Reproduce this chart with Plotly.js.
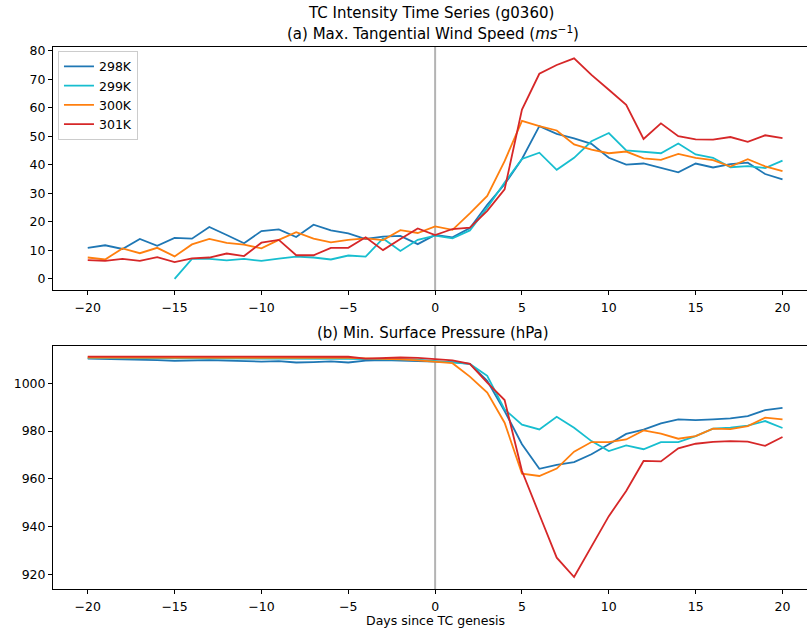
<!DOCTYPE html>
<html>
<head>
<meta charset="utf-8">
<script src="https://cdn.plot.ly/plotly-3.0.1.min.js"></script>
<style>html,body{margin:0;padding:0;background:#fff;}#chart{width:807px;height:632px;}</style>
</head>
<body>
<div id="chart"></div>
<script>
const days = [-20,-19,-18,-17,-16,-15,-14,-13,-12,-11,-10,-9,-8,-7,-6,-5,-4,-3,-2,-1,0,1,2,3,4,5,6,7,8,9,10,11,12,13,14,15,16,17,18,19,20];
const seriesNames = ['298K','299K','300K','301K'];
const seriesColors = ['#1f77b4','#17becf','#ff7f0e','#d62728'];

// (a) Max tangential wind speed (m/s)
const wind298 = [10.9,11.8,10.5,14.0,11.6,14.4,14.1,18.2,15.4,12.5,16.8,17.4,14.7,19.0,17.0,16.0,14.0,14.8,15.1,12.2,15.4,14.6,17.8,26.0,33.2,42.1,53.6,50.9,49.3,47.4,42.5,40.1,40.5,39.0,37.4,40.5,39.1,40.3,40.8,36.8,34.9];
const wind299 = [null,null,null,null,null,0.0,7.0,7.0,6.5,7.0,6.3,7.1,7.8,7.5,6.8,8.2,7.8,14.2,9.8,13.7,15.2,14.2,17.0,25.0,33.8,42.1,44.3,38.3,42.5,48.3,51.2,45.1,44.6,44.1,47.5,43.7,42.5,39.2,39.6,38.9,41.5];
const wind300 = [7.5,6.8,10.7,9.0,10.9,7.9,12.1,14.0,12.6,12.0,10.7,13.7,16.4,14.1,12.8,13.7,14.2,13.6,17.1,16.1,18.4,17.2,23.0,29.1,41.3,55.5,53.6,52.1,47.2,45.4,44.1,44.7,42.3,41.8,43.9,42.5,41.7,39.4,42.0,39.5,37.8];
const wind301 = [6.6,6.3,7.0,6.3,7.6,5.9,7.2,7.5,8.9,8.0,12.7,13.7,8.3,8.3,10.9,10.9,14.6,10.1,14.0,17.7,15.4,17.5,18.0,23.9,31.4,59.4,72.0,75.1,77.4,71.6,66.4,61.1,49.1,54.6,50.1,49.0,48.9,49.8,48.1,50.4,49.4];

// (b) Min surface pressure (hPa)
const pres298 = [1010.3,1010.2,1010.0,1009.9,1009.7,1009.4,1009.6,1009.7,1009.5,1009.3,1009.1,1009.3,1008.7,1008.9,1009.2,1008.7,1009.5,1009.7,1009.5,1009.6,1009.3,1008.9,1008.1,1001.0,988.4,974.5,964.2,965.9,967.0,970.3,974.5,978.8,980.6,983.2,984.9,984.6,984.9,985.3,986.3,988.8,989.7];
const pres299 = [1010.5,1010.5,1010.4,1010.4,1010.4,1010.3,1010.4,1010.4,1010.3,1010.3,1010.2,1010.3,1010.2,1010.3,1010.3,1010.2,1010.1,1010.2,1010.0,1009.9,1009.3,1008.9,1008.1,1003.1,989.1,982.7,980.7,986.0,981.4,975.8,971.6,974.0,972.4,975.4,975.4,977.9,981.0,981.4,982.3,984.2,981.3];
const pres300 = [1010.8,1010.8,1010.8,1010.7,1010.7,1010.7,1010.7,1010.7,1010.6,1010.7,1010.6,1010.6,1010.6,1010.7,1010.6,1010.6,1010.4,1010.3,1010.0,1009.6,1008.9,1008.4,1002.8,996.1,983.5,962.2,961.2,964.3,971.4,975.4,975.4,976.5,980.3,978.9,976.8,977.9,981.0,980.8,982.1,985.6,984.9];
const pres301 = [1011.2,1011.2,1011.2,1011.2,1011.2,1011.1,1011.1,1011.1,1011.2,1011.1,1011.1,1011.0,1011.1,1011.1,1011.1,1011.1,1010.3,1010.5,1010.8,1010.6,1010.1,1009.6,1008.1,1000.3,993.0,963.3,945.1,927.0,918.9,931.9,944.4,954.9,967.5,967.3,972.8,974.7,975.5,975.8,975.6,973.8,977.5];

const windSeries = [wind298, wind299, wind300, wind301];
const presSeries = [pres298, pres299, pres300, pres301];

const FONT = 'DejaVu Sans, sans-serif';
const traces = [];
windSeries.forEach((s, i) => {
  traces.push({x: days, y: s, type: 'scatter', mode: 'lines', name: seriesNames[i],
    line: {color: seriesColors[i], width: 1.8}, xaxis: 'x', yaxis: 'y', showlegend: true, connectgaps: false});
});
presSeries.forEach((s, i) => {
  traces.push({x: days, y: s, type: 'scatter', mode: 'lines', name: seriesNames[i],
    line: {color: seriesColors[i], width: 1.8}, xaxis: 'x2', yaxis: 'y2', showlegend: false});
});

const axisCommon = {
  showgrid: false, zeroline: false, showline: true, linecolor: '#000', linewidth: 1,
  ticks: 'outside', ticklen: 4, tickwidth: 1, tickcolor: '#000',
  tickfont: {family: FONT, size: 12.5, color: '#000'}
};
const xTicks = [-20,-15,-10,-5,0,5,10,15,20];
const layout = {
  width: 807, height: 632,
  margin: {l: 53, r: 0, t: 47, b: 43},
  paper_bgcolor: '#fff', plot_bgcolor: '#fff',
  font: {family: FONT, color: '#000'},
  showlegend: true,
  legend: {x: 0.0066, y: 0.993, xanchor: 'left', yanchor: 'top',
    bgcolor: 'rgba(255,255,255,0.8)', bordercolor: '#cccccc', borderwidth: 1,
    font: {family: FONT, size: 12.5, color: '#000'}, itemwidth: 30, tracegroupgap: 0},
  xaxis: Object.assign({}, axisCommon, {range: [-22, 21.41], domain: [0, 1], anchor: 'y', mirror: true, tickvals: xTicks, ticklabelstandoff: 2}),
  yaxis: Object.assign({}, axisCommon, {range: [-3.9, 81.4], domain: [0.5517, 1], anchor: 'x', mirror: false, tickvals: [0,10,20,30,40,50,60,70,80]}),
  xaxis2: Object.assign({}, axisCommon, {range: [-22, 21.41], domain: [0, 1], anchor: 'y2', mirror: true, tickvals: xTicks, ticklabelstandoff: 2}),
  yaxis2: Object.assign({}, axisCommon, {range: [913.9, 1015.6], domain: [0, 0.4483], anchor: 'x2', mirror: false, tickvals: [920,940,960,980,1000]}),
  shapes: [
    {type: 'line', xref: 'x', yref: 'y domain', x0: 0, x1: 0, y0: 0, y1: 1, layer: 'below', line: {color: '#b3b3b3', width: 2}},
    {type: 'line', xref: 'x2', yref: 'y2 domain', x0: 0, x1: 0, y0: 0, y1: 1, layer: 'below', line: {color: '#b3b3b3', width: 2}}
  ],
  annotations: [
    {text: 'TC Intensity Time Series (g0360)', xref: 'x', yref: 'paper', x: -0.25, y: 1.0627, yanchor: 'middle', showarrow: false, font: {family: FONT, size: 15, color: '#000'}},
    {text: '(a) Max. Tangential Wind Speed (<i>ms</i><sup>−1</sup>)', xref: 'x', yref: 'paper', x: -0.1, y: 1.0258, yanchor: 'middle', showarrow: false, font: {family: FONT, size: 15, color: '#000'}},
    {text: '(b) Min. Surface Pressure (hPa)', xref: 'x2', yref: 'paper', x: -0.1, y: 0.4723, yanchor: 'middle', showarrow: false, font: {family: FONT, size: 15, color: '#000'}},
    {text: 'Days since TC genesis', xref: 'x2', yref: 'paper', x: 0, y: -0.059, yanchor: 'middle', showarrow: false, font: {family: FONT, size: 12.5, color: '#000'}}
  ]
};
Plotly.newPlot('chart', traces, layout, {displayModeBar: false, staticPlot: true});
</script>
</body>
</html>
